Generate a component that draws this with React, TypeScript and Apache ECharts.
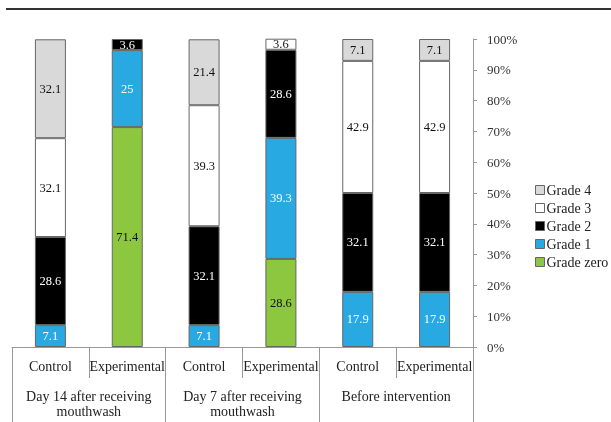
import React, { useEffect, useRef } from "react";
import * as echarts from "echarts";

const categories = ["Control", "Experimental", "Control", "Experimental", "Control", "Experimental"];
const groups = ["Day 14 after receiving\nmouthwash", "Day 7 after receiving\nmouthwash", "Before intervention"];
const gradeZero = [0, 71.4, 0, 28.6, 0, 0];
const grade1 = [7.1, 25, 7.1, 39.3, 17.9, 17.9];
const grade2 = [28.6, 3.6, 32.1, 28.6, 32.1, 32.1];
const grade3 = [32.1, 0, 39.3, 3.6, 42.9, 42.9];
const grade4 = [32.1, 0, 21.4, 0, 7.1, 7.1];
const yTicks = [0, 10, 20, 30, 40, 50, 60, 70, 80, 90, 100];

const FONT = "Liberation Serif";

export default function App() {
  const ref = useRef<HTMLDivElement>(null);
  useEffect(() => {
    if (!ref.current) return;
    const chart = echarts.init(ref.current, undefined, { renderer: "svg" });
    const mk = (name: string, data: number[], color: string, labelColor: string) => ({
      name,
      type: "bar",
      stack: "all",
      xAxisIndex: 0,
      barWidth: 31,
      data: data.map((v) => (v === 0 ? null : v)),
      itemStyle: { color, borderColor: "#666", borderWidth: 1 },
      label: {
        show: true,
        position: "inside",
        color: labelColor,
        fontFamily: FONT,
        fontSize: 12.5,
        formatter: (p: any) => String(p.value),
      },
    });
    chart.setOption({
      animation: false,
      textStyle: { fontFamily: FONT },
      graphic: [
        {
          type: "line",
          shape: { x1: 6, y1: 9, x2: 611, y2: 9 },
          style: { stroke: "#333", lineWidth: 2 },
        },
      ],
      grid: { left: 12, right: 138, top: 39, bottom: 75 },
      legend: {
        orient: "vertical",
        left: 530,
        top: 178,
        itemWidth: 9,
        itemHeight: 9,
        itemGap: 4,
        data: ["Grade 4", "Grade 3", "Grade 2", "Grade 1", "Grade zero"],
        textStyle: { fontFamily: FONT, fontSize: 14, color: "#222", padding: [0, 0, 0, -3] },
        icon: "rect",
        itemStyle: { borderColor: "#666", borderWidth: 1 },
      },
      xAxis: [
        {
          type: "category",
          data: categories,
          position: "bottom",
          axisLine: { show: true, lineStyle: { color: "#999", width: 1 } },
          axisTick: { show: true, length: 31, lineStyle: { color: "#999" } },
          axisLabel: { fontFamily: FONT, fontSize: 14, color: "#222", margin: 12, interval: 0 },
        },
        {
          type: "category",
          data: groups,
          position: "bottom",
          axisLine: { show: false },
          axisTick: { show: true, length: 76, lineStyle: { color: "#999" } },
          axisLabel: { fontFamily: FONT, fontSize: 14, color: "#222", margin: 42, lineHeight: 15, interval: 0 },
        },
      ],
      yAxis: {
        type: "value",
        position: "right",
        min: 0,
        max: 100,
        interval: 10,
        axisLine: { show: true, lineStyle: { color: "#999" } },
        axisTick: { show: true, length: 4, lineStyle: { color: "#999" } },
        splitLine: { show: false },
        axisLabel: {
          fontFamily: FONT,
          fontSize: 13,
          color: "#333",
          margin: 14,
          formatter: (v: number) => (yTicks.includes(v) ? v + "%" : ""),
        },
      },
      series: [
        mk("Grade zero", gradeZero, "#8dc63f", "#111"),
        mk("Grade 1", grade1, "#29a9e1", "#fff"),
        mk("Grade 2", grade2, "#000000", "#fff"),
        mk("Grade 3", grade3, "#ffffff", "#111"),
        mk("Grade 4", grade4, "#d9d9d9", "#111"),
      ],
    });
    return () => chart.dispose();
  }, []);
  return <div ref={ref} style={{ width: 611, height: 422, position: "fixed", left: 0, top: 0 }} />;
}
